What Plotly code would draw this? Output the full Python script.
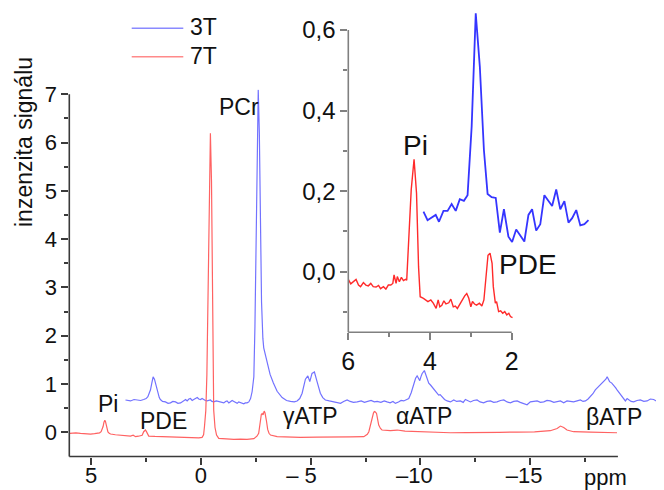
import plotly.graph_objects as go

# ---------------- data ----------------
# main panel, 3T spectrum (ppm, intensity)
ppm_3T = [3.44, 3.30, 3.21, 3.05, 2.91, 2.75, 2.61, 2.50, 2.42, 2.36, 2.30, 2.24, 2.18, 2.12, 2.07, 2.02,
          1.97, 1.90, 1.85, 1.75, 1.62, 1.50, 1.39, 1.28, 1.16, 1.05, 0.93, 0.85, 0.78, 0.70, 0.63, 0.55,
          0.48, 0.40, 0.33, 0.25, 0.17, 0.10, 0.02, -0.05, -0.13, -0.20, -0.28, -0.35, -0.43, -0.50, -0.58,
          -0.70, -0.81, -0.92, -1.04, -1.12, -1.19, -1.27, -1.34, -1.42, -1.50, -1.58, -1.65, -1.72, -1.80,
          -1.88, -1.95, -2.02, -2.10, -2.18, -2.26, -2.33, -2.41, -2.46, -2.51, -2.56, -2.61, -2.66, -2.71,
          -2.76, -2.82, -2.86, -2.95, -3.05, -3.15, -3.30, -3.47, -3.70, -3.90, -4.08, -4.25, -4.38, -4.50,
          -4.61, -4.70, -4.76, -4.87, -4.96, -5.06, -5.17, -5.29, -5.37, -5.44, -5.55, -5.67, -5.85, -6.05,
          -6.20, -6.36, -6.50, -6.66, -6.80, -6.95, -7.12, -7.30, -7.45, -7.57, -7.75, -7.90, -8.03, -8.20,
          -8.35, -8.48, -8.62, -8.75, -8.86, -9.00, -9.12, -9.24, -9.35, -9.47, -9.58, -9.69, -9.78, -9.85,
          -9.92, -9.97, -10.03, -10.08, -10.18, -10.25, -10.31, -10.38, -10.46, -10.53, -10.61, -10.72,
          -10.83, -10.90, -10.99, -11.10, -11.22, -11.37, -11.52, -11.65, -11.82, -11.95, -12.05, -12.18,
          -12.28, -12.42, -12.58, -12.72, -12.88, -13.03, -13.19, -13.34, -13.49, -13.65, -13.80, -13.95,
          -14.10, -14.25, -14.41, -14.55, -14.71, -14.86, -15.01, -15.17, -15.32, -15.47, -15.62, -15.77,
          -15.92, -16.08, -16.23, -16.38, -16.53, -16.68, -16.83, -16.98, -17.14, -17.29, -17.41, -17.52,
          -17.64, -17.75, -17.86, -17.97, -18.10, -18.20, -18.30, -18.38, -18.45, -18.51, -18.57, -18.62,
          -18.72, -18.81, -18.90, -18.96, -19.08, -19.19, -19.27, -19.34, -19.42, -19.49, -19.60, -19.72,
          -19.87, -20.02, -20.18, -20.33, -20.48, -20.63, -20.78, -20.94, -21.10]
int_3T = [0.67, 0.66, 0.65, 0.68, 0.67, 0.66, 0.68, 0.70, 0.74, 0.80, 0.88, 1.02, 1.15, 1.10, 1.01, 0.90,
          0.81, 0.72, 0.68, 0.64, 0.63, 0.60, 0.61, 0.64, 0.63, 0.60, 0.61, 0.64, 0.67, 0.68, 0.65, 0.69,
          0.70, 0.66, 0.68, 0.70, 0.72, 0.69, 0.68, 0.70, 0.67, 0.66, 0.65, 0.66, 0.67, 0.64, 0.63,
          0.65, 0.64, 0.62, 0.61, 0.64, 0.65, 0.61, 0.63, 0.66, 0.64, 0.62, 0.60, 0.63, 0.62,
          0.60, 0.59, 0.61, 0.61, 0.63, 0.70, 0.84, 1.15, 2.20, 4.00, 6.00, 7.09, 6.20, 4.30,
          2.70, 1.95, 1.75, 1.58, 1.40, 1.20, 1.02, 0.85, 0.72, 0.66, 0.64, 0.63, 0.65, 0.70,
          0.81, 0.98, 1.10, 1.17, 1.05, 1.22, 1.25, 1.05, 0.92, 0.81, 0.72, 0.67, 0.65, 0.63,
          0.62, 0.60, 0.64, 0.67, 0.64, 0.62, 0.63, 0.65, 0.62, 0.63, 0.66, 0.63, 0.64, 0.62,
          0.65, 0.63, 0.61, 0.64, 0.60, 0.63, 0.66, 0.65, 0.68, 0.70, 0.82, 1.01, 1.12, 1.17,
          1.10, 1.07, 1.16, 1.22, 1.28, 1.18, 1.08, 1.02, 0.98, 0.94, 0.88, 0.82,
          0.77, 0.78, 0.74, 0.68, 0.65, 0.63, 0.67, 0.64, 0.65, 0.62, 0.68, 0.65,
          0.63, 0.66, 0.67, 0.63, 0.61, 0.64, 0.65, 0.62, 0.63, 0.66, 0.67, 0.63,
          0.61, 0.64, 0.65, 0.62, 0.60, 0.57, 0.63, 0.64, 0.65, 0.62, 0.63, 0.66,
          0.65, 0.62, 0.63, 0.65, 0.61, 0.65, 0.64, 0.63, 0.65, 0.67, 0.64, 0.65,
          0.69, 0.74, 0.80, 0.88, 0.94, 0.98, 1.02, 1.05, 1.10, 1.15, 1.10, 1.05,
          1.02, 0.98, 0.92, 0.88, 0.80, 0.74, 0.68, 0.65, 0.70, 0.68, 0.64, 0.63,
          0.66, 0.67, 0.64, 0.65, 0.69, 0.68, 0.64, 0.67, 0.70]

# main panel, 7T spectrum
ppm_7T = [5.98, 5.70, 5.49, 5.25, 5.03, 4.85, 4.73, 4.62, 4.55, 4.50, 4.46, 4.42, 4.38, 4.35, 4.32, 4.28,
          4.24, 4.18, 4.12, 3.90, 3.67, 3.45, 3.21, 3.09, 2.98, 2.85, 2.68, 2.61, 2.57, 2.53, 2.49, 2.45,
          2.38, 2.10, 1.85, 1.45, 1.08, 0.70, 0.33, 0.10, -0.05, -0.12, -0.16, -0.22, -0.27, -0.32, -0.37,
          -0.43, -0.48, -0.52, -0.55, -0.58, -0.64, -0.71, -0.81, -1.10, -1.50, -1.80, -2.10, -2.41, -2.55,
          -2.63, -2.71, -2.75, -2.79, -2.83, -2.88, -2.92, -2.98, -3.04, -3.10, -3.17, -3.47, -4.00, -4.53,
          -5.30, -6.05, -6.80, -7.42, -7.58, -7.65, -7.72, -7.80, -7.86, -7.90, -7.95, -8.00, -8.05, -8.10,
          -8.18, -8.25, -8.63, -8.94, -9.30, -9.85, -10.60, -11.37, -12.10, -12.88, -13.60, -14.41, -15.20,
          -15.92, -16.10, -16.23, -16.38, -16.53, -16.68, -16.85, -16.98, -17.75, -18.40, -18.96]
int_7T = [-0.02, -0.01, -0.02, -0.03, -0.035, -0.025, -0.02, -0.01, 0.013, 0.06, 0.12, 0.21, 0.25, 0.22, 0.15, 0.07,
          0.01, -0.02, -0.035, -0.05, -0.06, -0.065, -0.077, -0.06, -0.09, -0.08, -0.06, 0.013, 0.04, 0.048, 0.02, -0.02,
          -0.077, -0.085, -0.09, -0.10, -0.104, -0.11, -0.125, -0.115, -0.104, -0.05, 0.12, 0.45, 1.2, 2.8, 5.0,
          6.19, 5.2, 2.5, 1.1, 0.46, 0.10, -0.056, -0.125, -0.14, -0.145, -0.14, -0.145, -0.13, -0.08,
          -0.02, 0.30, 0.37, 0.39, 0.36, 0.44, 0.40, 0.25, 0.06, -0.02, -0.056, -0.09, -0.10, -0.104,
          -0.10, -0.104, -0.095, -0.09, -0.04, 0.013, 0.15, 0.29, 0.40, 0.43, 0.42, 0.39, 0.27, 0.15,
          0.08, 0.048, 0.034, 0.048, 0.025, 0.013, 0.0, -0.008, -0.005, -0.008, 0.0, 0.006, 0.01,
          0.034, 0.055, 0.08, 0.13, 0.10, 0.048, 0.02, 0.013, 0.006, 0.0, -0.008]

# inset, 3T
ppm_3T_in = [4.16, 4.06, 3.86, 3.78, 3.67, 3.57, 3.47, 3.37, 3.27, 3.17, 3.08, 2.98, 2.88, 2.78, 2.68, 2.59,
             2.49, 2.39, 2.29, 2.19, 2.08, 1.99, 1.89, 1.79, 1.69, 1.59, 1.50, 1.40, 1.30, 1.20, 1.10, 1.01,
             0.91, 0.81, 0.71, 0.61, 0.52, 0.42, 0.32, 0.22, 0.12]
int_3T_in = [0.149, 0.128, 0.141, 0.124, 0.151, 0.151, 0.168, 0.151, 0.180, 0.176, 0.190, 0.360, 0.641, 0.509,
             0.302, 0.193, 0.185, 0.183, 0.097, 0.155, 0.087, 0.074, 0.105, 0.089, 0.075, 0.141, 0.155, 0.102,
             0.118, 0.190, 0.175, 0.163, 0.204, 0.155, 0.175, 0.122, 0.133, 0.153, 0.115, 0.118, 0.128]

# inset, 7T
ppm_7T_in = [6.02, 6.00, 5.94, 5.88, 5.81, 5.75, 5.70, 5.63, 5.57, 5.51, 5.45, 5.39, 5.32, 5.26, 5.21, 5.14,
             5.08, 5.02, 4.96, 4.91, 4.88, 4.83, 4.80, 4.75, 4.70, 4.65, 4.60, 4.57, 4.52, 4.46, 4.39, 4.33,
             4.28, 4.24, 4.16, 4.10, 4.05, 3.98, 3.92, 3.85, 3.80, 3.76, 3.71, 3.66, 3.61, 3.54, 3.49, 3.43,
             3.38, 3.33, 3.27, 3.22, 3.15, 3.10, 3.05, 3.00, 2.96, 2.91, 2.86, 2.79, 2.73, 2.68, 2.63, 2.58,
             2.53, 2.48, 2.45, 2.40, 2.37, 2.32, 2.27, 2.22, 2.17, 2.12, 2.07, 2.03, 1.98]
int_7T_in = [-0.012, -0.019, -0.030, -0.025, -0.019, -0.033, -0.037, -0.027, -0.033, -0.035, -0.029, -0.037,
             -0.038, -0.034, -0.042, -0.037, -0.043, -0.033, -0.033, -0.029, -0.008, -0.029, -0.012, -0.025,
             -0.014, -0.022, -0.019, -0.021, 0.079, 0.203, 0.279, 0.195, 0.012, -0.062, -0.066, -0.070,
             -0.074, -0.070, -0.078, -0.091, -0.070, -0.087, -0.083, -0.072, -0.080, -0.077, -0.068, -0.087,
             -0.085, -0.091, -0.080, -0.072, -0.060, -0.054, -0.066, -0.087, -0.074, -0.080, -0.083, -0.078,
             -0.085, -0.070, -0.004, 0.041, 0.046, 0.021, -0.037, -0.078, -0.074, -0.099, -0.097, -0.103,
             -0.099, -0.107, -0.103, -0.111, -0.114]

# tick labels
main_x_ticks = [5, 0, -5, -10, -15]
main_x_ticktext = ["5", "0", "–\u00a05\u00a0\u00a0\u00a0", "–10\u00a0\u00a0", "–15\u00a0\u00a0"]
main_x_minor = [2.5, -2.5, -7.5, -12.5, -17.5]
main_y_ticks = [0, 1, 2, 3, 4, 5, 6, 7]
main_y_minor = [0.5, 1.5, 2.5, 3.5, 4.5, 5.5, 6.5]
inset_x_ticks = [6, 4, 2]
inset_x_minor = [5, 3]
inset_y_ticks = [0.0, 0.2, 0.4, 0.6]
inset_y_minor = [-0.1, 0.1, 0.3, 0.5]

# peak labels
main_labels = [("PCr", -1.72, 6.74), ("Pi", 4.22, 0.58), ("PDE", 1.72, 0.24),
               ("γATP", -4.99, 0.34), ("αATP", -10.15, 0.34), ("βATP", -18.83, 0.31)]
inset_labels = [("Pi", 4.36, 0.312), ("PDE", 1.59, 0.018)]

# ---------------- styling / layout ----------------
# the page body keeps its 8 px default margin, so the figure is laid out
# in page pixels shifted by OFF
OFF = 8
W, H = 664 - OFF, 490 - OFF
FONT = "Liberation Sans, Arial, sans-serif"
BLUE_MAIN, RED_MAIN = "#7272ff", "#ff6262"
BLUE_IN, RED_IN = "#3535ff", "#ff2a2a"
AX = "#3a3a3a"
AX_IN = "#808080"


def xp(px):
    return (px - OFF) / W


def yp(py):
    return 1 - (py - OFF) / H


main_xr = [6, -21.1]
main_yr = [-0.5, 7.1]
in_xr = [6, 0.1]
in_yr = [-0.15, 0.65]
main_xd = [xp(69.3), 1.0]
main_yd = [yp(456.5), yp(89.4)]
in_xd = [xp(348.3), xp(589.3)]
in_yd = [yp(332.2), yp(9.75)]


def to_paper(dom, rng, v):
    return dom[0] + (v - rng[0]) / (rng[1] - rng[0]) * (dom[1] - dom[0])


fig = go.Figure()
fig.add_trace(go.Scatter(x=ppm_3T, y=int_3T, mode="lines", name="3T",
                         line=dict(color=BLUE_MAIN, width=1.2), xaxis="x", yaxis="y"))
fig.add_trace(go.Scatter(x=ppm_7T, y=int_7T, mode="lines", name="7T",
                         line=dict(color=RED_MAIN, width=1.2), xaxis="x", yaxis="y"))
fig.add_trace(go.Scatter(x=ppm_3T_in, y=int_3T_in, mode="lines", name="3T inset",
                         line=dict(color=BLUE_IN, width=1.8), xaxis="x2", yaxis="y2"))
fig.add_trace(go.Scatter(x=ppm_7T_in, y=int_7T_in, mode="lines", name="7T inset",
                         line=dict(color=RED_IN, width=1.4), xaxis="x2", yaxis="y2"))

common = dict(showgrid=False, zeroline=False, showline=False, ticks="outside", automargin=False,
              tickmode="array", tickwidth=1.5, tickcolor=AX)

fig.update_layout(
    template="none",
    width=W, height=H, margin=dict(l=0, r=0, t=0, b=0, autoexpand=False),
    paper_bgcolor="white", plot_bgcolor="white", showlegend=False,
    separators=", ",
    font=dict(family=FONT, color="#111111"),
    xaxis=dict(common, domain=main_xd, range=main_xr, anchor="y",
               tickvals=main_x_ticks, ticktext=main_x_ticktext, ticklen=7,
               tickfont=dict(size=22), ticklabelstandoff=-8,
               minor=dict(tickmode="array", tickvals=main_x_minor, ticklen=4,
                          ticks="outside", tickcolor=AX, tickwidth=1.5)),
    yaxis=dict(common, domain=main_yd, range=main_yr, anchor="x",
               tickvals=main_y_ticks, ticklen=7, tickfont=dict(size=22),
               minor=dict(tickmode="array", tickvals=main_y_minor, ticklen=4,
                          ticks="outside", tickcolor=AX, tickwidth=1.5)),
    xaxis2=dict(common, domain=in_xd, range=in_xr, anchor="y2",
                tickvals=inset_x_ticks, ticklen=7, tickfont=dict(size=25), tickcolor=AX_IN,
                minor=dict(tickmode="array", tickvals=inset_x_minor, ticklen=4,
                           ticks="outside", tickcolor=AX_IN, tickwidth=1.5)),
    yaxis2=dict(common, domain=in_yd, range=in_yr, anchor="x2",
                tickvals=inset_y_ticks, tickformat=".1f", ticklen=7, tickfont=dict(size=24),
                tickcolor=AX_IN,
                minor=dict(tickmode="array", tickvals=inset_y_minor, ticklen=4,
                           ticks="outside", tickcolor=AX_IN, tickwidth=1.5)),
)

# axis lines that stop at the last tick, as in the original
shapes = []
mx0 = main_xd[0]
my0 = main_yd[0]
shapes.append(dict(type="line", xref="paper", yref="paper", x0=mx0, x1=mx0,
                   y0=my0, y1=to_paper(main_yd, main_yr, 7), line=dict(color=AX, width=1.6)))
shapes.append(dict(type="line", xref="paper", yref="paper", x0=mx0, x1=to_paper(main_xd, main_xr, -19),
                   y0=my0, y1=my0, line=dict(color=AX, width=1.6)))
ix0 = in_xd[0]
iy0 = in_yd[0]
shapes.append(dict(type="line", xref="paper", yref="paper", x0=ix0, x1=ix0,
                   y0=iy0, y1=to_paper(in_yd, in_yr, 0.6), line=dict(color=AX_IN, width=1.6)))
shapes.append(dict(type="line", xref="paper", yref="paper", x0=ix0, x1=to_paper(in_xd, in_xr, 2),
                   y0=iy0, y1=iy0, line=dict(color=AX_IN, width=1.6)))

# legend drawn like the original (long sample lines)
legend_items = [("3T", "#8a8aff", 28.3), ("7T", "#ff8a8a", 56.7)]
annotations = []
for name, col, ypx in legend_items:
    shapes.append(dict(type="line", xref="paper", yref="paper", x0=xp(131.7), x1=xp(183.3),
                       y0=yp(ypx), y1=yp(ypx), line=dict(color=col, width=1.4)))
    annotations.append(dict(text=name, xref="paper", yref="paper", x=xp(188), y=yp(ypx - 1),
                            xanchor="left", yanchor="middle", showarrow=False, font=dict(size=23)))
fig.update_layout(shapes=shapes)

for txt, xv, yv in main_labels:
    annotations.append(dict(text=txt, x=xv, y=yv, xref="x", yref="y", showarrow=False,
                            xanchor="center", yanchor="middle", font=dict(size=23)))
for txt, xv, yv in inset_labels:
    annotations.append(dict(text=txt, x=xv, y=yv, xref="x2", yref="y2", showarrow=False,
                            xanchor="center", yanchor="middle", font=dict(size=28)))

annotations.append(dict(text="ppm", xref="paper", yref="paper", x=xp(605.8), y=yp(477),
                        xanchor="center", yanchor="middle", showarrow=False, font=dict(size=22)))
annotations.append(dict(text="inzenzita signálu", xref="paper", yref="paper", x=xp(24), y=yp(142),
                        xanchor="center", yanchor="middle", textangle=-90, showarrow=False,
                        font=dict(size=23)))
fig.update_layout(annotations=annotations)

fig.write_html("out.html")
